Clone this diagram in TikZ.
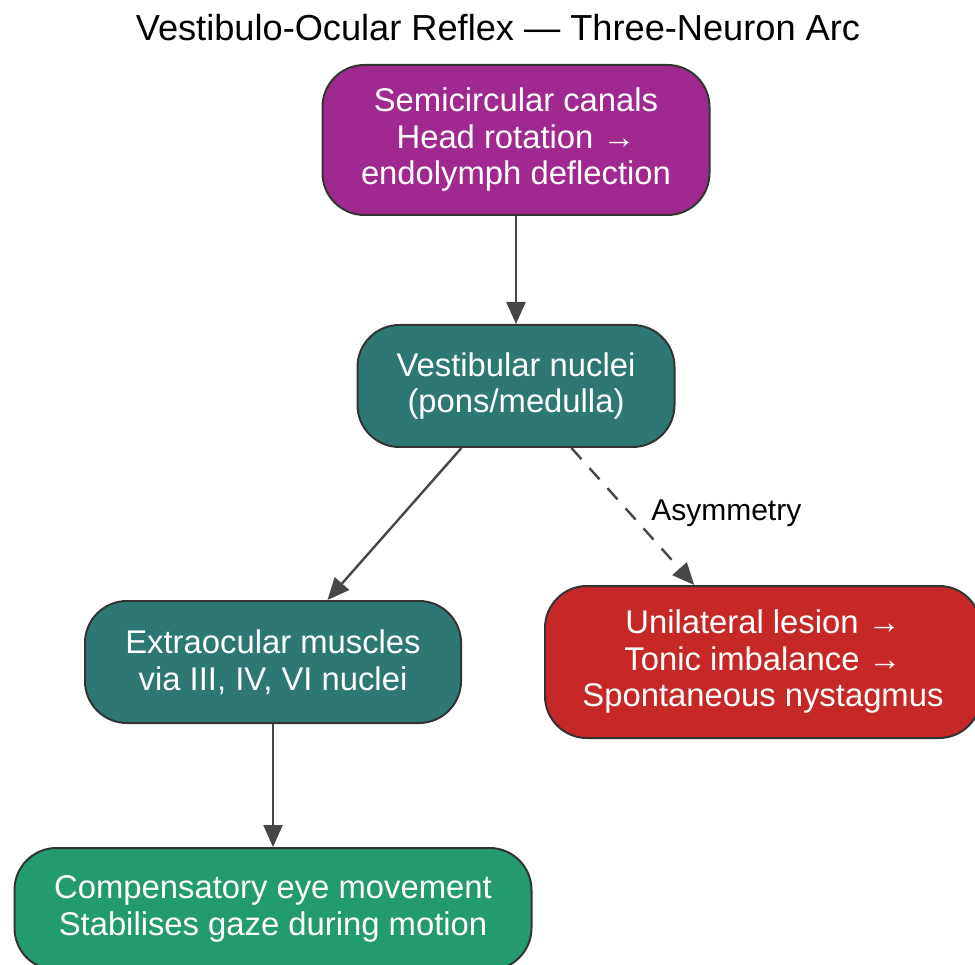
\documentclass[tikz,border=0pt]{standalone}
\usepackage{fontspec}
\setmainfont{Liberation Sans}
\usetikzlibrary{arrows.meta}
\definecolor{canalpurple}{HTML}{A0298F}
\definecolor{nucleiteal}{HTML}{2D7872}
\definecolor{lesionred}{HTML}{C62828}
\definecolor{gazegreen}{HTML}{239B6E}
\begin{document}
\begin{tikzpicture}[x=1pt,y=-1pt,
  box/.style={draw=black!80, line width=2pt, rounded corners=42pt, text=white,
    align=center, inner sep=0pt, font=\fontsize{32.8}{36.5}\selectfont},
  link/.style={draw=black!72, line width=2.4pt, -{Triangle[length=22pt,width=19pt]}}]
\useasboundingbox (0,0) rectangle (975,965);
\node[font=\fontsize{36.2}{40}\selectfont] (title) at (498,28) {Vestibulo-Ocular Reflex --- Three-Neuron Arc};
\node[box, fill=canalpurple, minimum width=387pt, minimum height=150pt] (canals) at (516,140)
  {Semicircular canals\\Head rotation →\\endolymph deflection};
\node[box, fill=nucleiteal, minimum width=317pt, minimum height=122pt] (nuclei) at (516,386)
  {Vestibular nuclei\\(pons/medulla)};
\node[box, fill=nucleiteal, minimum width=376pt, minimum height=122pt] (muscles) at (273,662)
  {Extraocular muscles\\via III, IV, VI nuclei};
\node[box, fill=lesionred, minimum width=436pt, minimum height=152pt] (lesion) at (763,662)
  {Unilateral lesion →\\Tonic imbalance →\\Spontaneous nystagmus};
\node[box, fill=gazegreen, minimum width=517pt, minimum height=122pt] (gaze) at (273,909)
  {Compensatory eye movement\\Stabilises gaze during motion};
\draw[link] (canals) -- (nuclei);
\draw[link] (nuclei) -- (muscles);
\draw[link, dash pattern=on 15pt off 12pt] (nuclei) -- (lesion)
  node[pos=0.475, right=17pt, font=\fontsize{30}{34}\selectfont] (asym) {Asymmetry};
\draw[link] (muscles) -- (gaze);
\end{tikzpicture}
\end{document}
